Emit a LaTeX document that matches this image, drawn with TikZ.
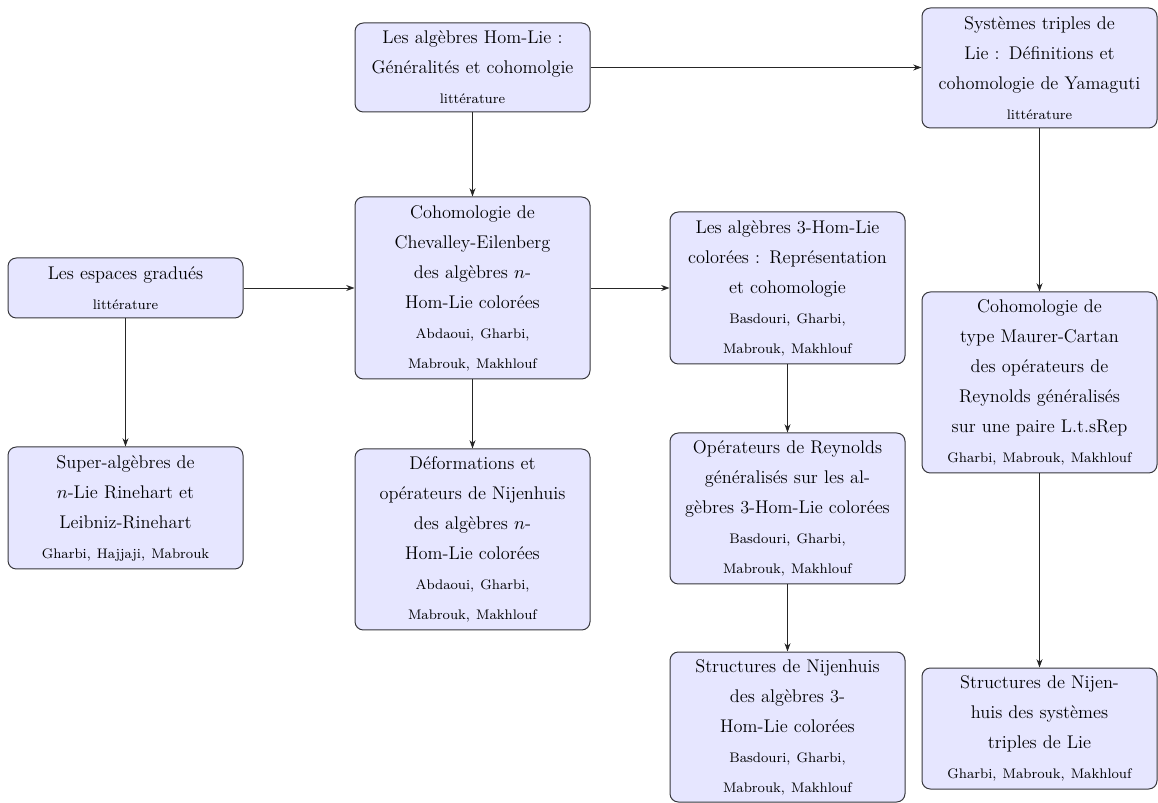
\documentclass[tikz,border=0pt]{standalone}
\usetikzlibrary{arrows.meta}
\definecolor{boxfill}{RGB}{230,230,255}
\definecolor{boxline}{RGB}{55,55,60}
\newcommand{\authors}[1]{{\fontsize{8.3}{18}\selectfont #1}}
\tikzset{
  box/.style={draw=boxline, fill=boxfill, rounded corners=5pt, line width=0.6pt,
    minimum width=141pt, text width=135pt, align=center, inner sep=2pt,
    font=\fontsize{11}{18}\selectfont},
  arr/.style={draw=black!85, line width=0.5pt, -{Stealth[length=5pt,width=3.6pt]}}
}
\begin{document}
\begin{tikzpicture}[x=0.6pt,y=-0.6pt]
\useasboundingbox (0,0) rectangle (1158,803);
\node[box, minimum height=53.4pt] (A) at (472.5,67.5)
  {Les algèbres Hom-Lie :\\ Généralités et cohomolgie\\ \authors{littérature}};
\node[box, minimum height=72pt] (B) at (1039.5,68)
  {Systèmes triples de\\ Lie : Définitions et\\ cohomologie de Yamaguti\\ \authors{littérature}};
\node[box, minimum height=36pt] (C) at (125.5,288)
  {Les espaces gradués\\ \authors{littérature}};
\node[box, minimum height=109.2pt] (D) at (472.5,288)
  {Cohomologie de\\ Chevalley-Eilenberg\\ des algèbres $n$-\\ Hom-Lie colorées\\ \authors{Abdaoui, Gharbi,}\\ \authors{Mabrouk, Makhlouf}};
\node[box, minimum height=91.2pt] (E) at (787.5,288)
  {Les algèbres 3-Hom-Lie\\ colorées : Représentation\\ et cohomologie\\ \authors{Basdouri, Gharbi,}\\ \authors{Mabrouk, Makhlouf}};
\node[box, minimum height=108.6pt] (F) at (1039.5,382.5)
  {Cohomologie de\\ type Maurer-Cartan\\ des opérateurs de\\ Reynolds généralisés\\ sur une paire L.t.sRep\\ \authors{Gharbi, Mabrouk, Makhlouf}};
\node[box, minimum height=73.2pt] (G) at (125.5,508)
  {Super-algèbres de\\ $n$-Lie Rinehart et\\ Leibniz-Rinehart\\ \authors{Gharbi, Hajjaji, Mabrouk}};
\node[box, minimum height=108.6pt] (H) at (472.5,539.5)
  {Déformations et\\ opérateurs de Nijenhuis\\ des algèbres $n$-\\ Hom-Lie colorées\\ \authors{Abdaoui, Gharbi,}\\ \authors{Mabrouk, Makhlouf}};
\node[box, minimum height=90.6pt] (I) at (787.5,508.5)
  {Opérateurs de Reynolds\\ généralisés sur les al-\\ gèbres 3-Hom-Lie colorées\\ \authors{Basdouri, Gharbi,}\\ \authors{Mabrouk, Makhlouf}};
\node[box, minimum height=90pt] (J) at (787.5,727)
  {Structures de Nijenhuis\\ des algèbres 3-\\ Hom-Lie colorées\\ \authors{Basdouri, Gharbi,}\\ \authors{Mabrouk, Makhlouf}};
\node[box, minimum height=72.6pt] (K) at (1039.5,728.5)
  {Structures de Nijen-\\ huis des systèmes\\ triples de Lie\\ \authors{Gharbi, Mabrouk, Makhlouf}};
\draw[arr] (A.east) -- (B.west |- A.east);
\draw[arr] (A.south) -- (D.north);
\draw[arr] (C.east) -- (D.west);
\draw[arr] (D.east) -- (E.west);
\draw[arr] (C.south) -- (G.north);
\draw[arr] (D.south) -- (H.north);
\draw[arr] (E.south) -- (I.north);
\draw[arr] (I.south) -- (J.north);
\draw[arr] (B.south) -- (F.north);
\draw[arr] (F.south) -- (K.north);
\end{tikzpicture}
\end{document}
